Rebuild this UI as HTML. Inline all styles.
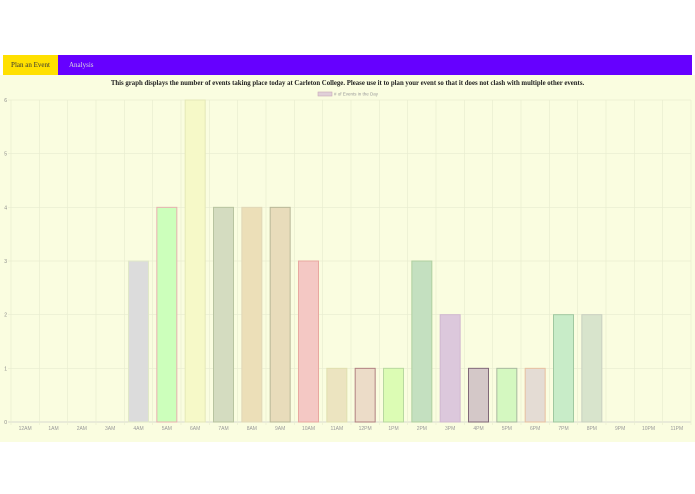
<!DOCTYPE html>
<html><head><meta charset="utf-8"><style>
body{margin:0;width:695px;height:494px;background:#fff;font-family:"Liberation Serif",serif;position:relative;overflow:hidden}
#nav{position:absolute;left:3px;top:55px;width:689px;height:20px;background:#6600ff}
#nav div{position:absolute;top:0;height:20px;line-height:20px;font-size:7px}
#panel{position:absolute;left:0;top:75px;width:695px;height:367px;background:#fafde0}
#title{position:absolute;top:80px;left:0;width:695px;text-align:center;font-weight:bold;font-size:6.8px;color:#222}
svg{position:absolute;left:0;top:0}
</style></head><body>
<div id="nav">
<div style="left:0;width:55px;background:#ffe000;color:#333;text-align:center">Plan an Event</div>
<div style="left:66px;color:#ddd">Analysis</div>
</div>
<div id="panel"></div>
<div id="title">This graph displays the number of events taking place today at Carleton College. Please use it to plan your event so that it does not clash with multiple other events.</div>
<svg id="chart" width="695" height="494"></svg>
<script>
const categories=["12AM","1AM","2AM","3AM","4AM","5AM","6AM","7AM","8AM","9AM","10AM","11AM","12PM","1PM","2PM","3PM","4PM","5PM","6PM","7PM","8PM","9PM","10PM","11PM"];
const values=[0,0,0,0,3,4,6,4,4,4,3,1,1,1,3,2,1,1,1,2,2,0,0,0];
const yTicks=[0,1,2,3,4,5,6];
const fills=["#ddd","#ddd","#ddd","#ddd","#dcdcdc","#ccffbb","#f6f9c8","#d4dcc0","#ecdfb8","#e8dcbb","#f4c8c4","#ece4c0","#ecdcc8","#dcfcb4","#c4e0c0","#dcc8dc","#d4c8c8","#d4f8c0","#e4dcd4","#c8ecc8","#d8e4cc","#ddd","#ddd","#ddd"];
const strokes=["#ccc","#ccc","#ccc","#ccc","#e0e8c8","#e8b0b0","#e4e8b8","#b8c4a0","#e0d8b8","#b8b898","#e8a8a0","#e0e0b0","#b08080","#b8d8a0","#b0d0a0","#d0b8d0","#806878","#a8b8a0","#e8c0a0","#a0c8a0","#c8d0c0","#ccc","#ccc","#ccc"];
const svg=document.getElementById('chart');const NS='http://www.w3.org/2000/svg';
const L=11,R=691,T=100,B=422,ymax=6;
const step=(R-L)/categories.length;
const x=i=>L+i*step, y=v=>B-(B-T)*v/ymax;
function mk(t,a){const e=document.createElementNS(NS,t);for(const k in a)e.setAttribute(k,a[k]);svg.appendChild(e);return e;}
yTicks.forEach(v=>{
 const g=mk('line',{x1:L-3,x2:R,y1:y(v),y2:y(v),stroke:v===0?'#ccc':'#e8ecd0','stroke-width':0.7});
 
 
 const t=mk('text',{x:7,y:y(v)+2,'font-size':5,fill:'#888','text-anchor':'end','font-family':'Liberation Sans'});
 t.textContent=v;
 
 
});
for(let i=0;i<=categories.length;i++){
 const g=mk('line',{x1:x(i),x2:x(i),y1:T,y2:B+3,stroke:'#e8ecd0','stroke-width':0.7});
 
 
}
categories.forEach((c,i)=>{
 const cx=x(i)+step/2;
 if(values[i]>0){
  const r=mk('rect',{x:cx-10,y:y(values[i]),width:20,height:B-y(values[i]),fill:fills[i],stroke:strokes[i],'stroke-width':1});
  
  
 }
 const t=mk('text',{x:cx,y:B+8,'font-size':5,fill:'#999','text-anchor':'middle','font-family':'Liberation Sans'});
 t.textContent=c;
 
 
});
const lg=mk('rect',{x:318,y:92,width:14,height:4,fill:'#e0d0d8',stroke:'#c8a8b8','stroke-width':0.6});


const lt=mk('text',{x:334,y:95.5,'font-size':4.5,fill:'#999','font-family':'Liberation Sans'});
lt.textContent='# of Events in the Day';


</script>
</body></html>
